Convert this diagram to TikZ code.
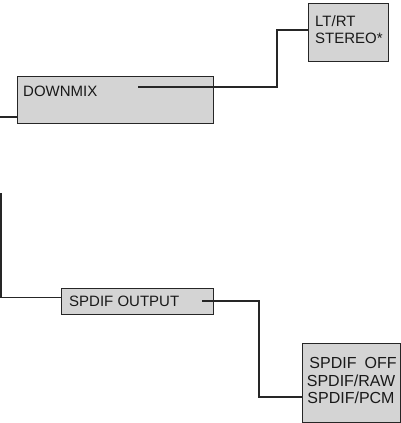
\documentclass[tikz,border=0pt]{standalone}
\usepackage{fontspec}
\setmainfont{Liberation Sans}
\begin{document}
\begin{tikzpicture}[x=1pt,y=-1pt,
  box/.style={draw=black!85, line width=1.3pt, fill=black!17, inner sep=0pt, anchor=north west},
  txt/.style={inner sep=0pt, text=black!90, font=\fontsize{15}{16}\selectfont},
  wire/.style={draw=black!85, line width=1.5pt}]
\useasboundingbox (0,0) rectangle (401,423);
% boxes
\node[box, minimum width=80, minimum height=58] (lt) at (308,3) {};
\node[box, minimum width=196, minimum height=47] (dm) at (17,76) {};
\node[box, minimum width=152, minimum height=26] (so) at (61,288) {};
\node[box, minimum width=98, minimum height=79] (sp) at (302,343) {};
% texts
\node[txt, anchor=base west] (lt1) at (315,27) {LT/RT};
\node[txt, anchor=base west] (lt2) at (315,43) {STEREO*};
\node[txt, anchor=base west] (dmt) at (23,96) {DOWNMIX};
\node[txt, anchor=base west] (sot) at (69,306) {SPDIF OUTPUT};
\node[txt, anchor=base, font=\fontsize{16}{17.5}\selectfont] (sp1) at (353,368) {SPDIF\hspace{0.5em}OFF};
\node[txt, anchor=base, font=\fontsize{16}{17.5}\selectfont] (sp2) at (351,386) {SPDIF/RAW};
\node[txt, anchor=base, font=\fontsize{16}{17.5}\selectfont] (sp3) at (351,403) {SPDIF/PCM};
% connector coordinates
\coordinate (dmout) at (138,87);
\coordinate (ltin) at (309,30);
\coordinate (inl) at (0,117);
\coordinate (dmin) at (18,117);
\coordinate (vtop) at (1,193);
\coordinate (soin) at (61,297.5);
\coordinate (soout) at (202,301);
\coordinate (spin) at (303,397);
% connectors
\draw[wire] (dmout) -- (277,87) |- (ltin);
\draw[wire] (inl) -- (dmin);
\draw[wire] (vtop) |- (soin);
\draw[wire] (soout) -- (259,301) |- (spin);
\end{tikzpicture}
\end{document}
